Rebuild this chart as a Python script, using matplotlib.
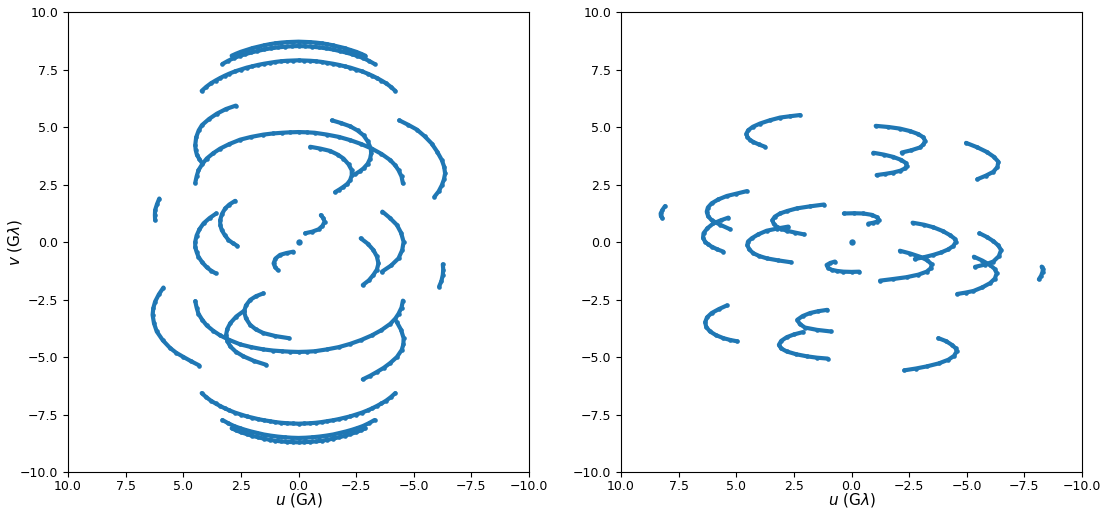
import matplotlib
matplotlib.use("Agg")
import matplotlib.pyplot as plt

# baselines, (u, v) in G-lambda
# left panel
top_outer = [(2.9,8.1),(2.7,8.19),(2.5,8.27),(2.25,8.35),(2,8.43),(1.75,8.49),(1.5,8.55),(1.25,8.6),(1,8.64),(0.75,8.67),(0.5,8.69),(0.25,8.7),(0,8.71),(-0.25,8.7),(-0.5,8.69),(-0.75,8.67),(-1,8.64),(-1.25,8.6),(-1.5,8.55),(-1.75,8.49),(-2,8.43),(-2.25,8.35),(-2.5,8.27),(-2.7,8.19),(-2.9,8.1)]
top_inner = [(3.3,7.74),(3.05,7.88),(2.8,8.0),(2.55,8.09),(2.3,8.17),(2.05,8.24),(1.8,8.3),(1.5,8.37),(1.2,8.42),(0.9,8.46),(0.6,8.49),(0.3,8.51),(0,8.52),(-0.3,8.51),(-0.6,8.49),(-0.9,8.46),(-1.2,8.42),(-1.5,8.37),(-1.8,8.3),(-2.05,8.24),(-2.3,8.17),(-2.55,8.09),(-2.8,8.0),(-3.05,7.88),(-3.3,7.74)]
top_wide = [(4.2,6.57),(4.0,6.75),(3.8,6.9),(3.6,7.02),(3.4,7.13),(3.2,7.23),(3,7.32),(2.75,7.42),(2.5,7.5),(2.25,7.58),(2,7.64),(1.75,7.7),(1.5,7.75),(1.25,7.79),(1,7.83),(0.75,7.86),(0.5,7.88),(0.25,7.89),(0,7.9),(-0.25,7.89),(-0.5,7.88),(-0.75,7.86),(-1,7.83),(-1.25,7.79),(-1.5,7.75),(-1.75,7.7),(-2,7.64),(-2.25,7.58),(-2.5,7.5),(-2.75,7.42),(-3,7.32),(-3.2,7.23),(-3.4,7.13),(-3.6,7.02),(-3.8,6.9),(-4.0,6.75),(-4.2,6.57)]
hook_ul = [(2.72,5.93),(3.15,5.78),(3.54,5.58),(3.88,5.35),(4.19,5.08),(4.33,4.85),(4.44,4.55),(4.48,4.21),(4.46,4.0),(4.41,3.8),(4.3,3.6),(4.19,3.44)]
mid_upper = [(4.48,2.57),(4.42,2.85),(4.34,3.12),(4.18,3.38),(3.98,3.63),(3.7,3.86),(3.4,4.06),(3.0,4.26),(2.53,4.45),(2.05,4.57),(1.52,4.67),(1.1,4.72),(0.7,4.75),(0.35,4.77),(0,4.78),(-0.35,4.77),(-0.7,4.75),(-1.23,4.67),(-1.75,4.57),(-2.24,4.43),(-2.72,4.26),(-3.18,4.06),(-3.6,3.83),(-3.98,3.56),(-4.2,3.33),(-4.34,3.12),(-4.47,2.85),(-4.53,2.55)]
hook_ur1 = [(-1.45,5.29),(-1.85,5.17),(-2.24,5.03),(-2.56,4.85),(-2.82,4.64),(-3.0,4.38),(-3.14,4.06),(-3.15,3.85),(-3.11,3.63),(-3.0,3.4),(-2.82,3.2),(-2.65,3.07),(-2.46,2.95)]
hook_ur2 = [(-0.51,4.14),(-0.95,4.06),(-1.37,3.96),(-1.7,3.8),(-1.95,3.63),(-2.17,3.38),(-2.31,3.12),(-2.31,2.9),(-2.24,2.69),(-2.12,2.53),(-1.95,2.4),(-1.77,2.28),(-1.59,2.17)]
right_outer = [(-4.37,5.29),(-4.75,5.1),(-5.13,4.89),(-5.47,4.6),(-5.78,4.28),(-6.02,3.92),(-6.22,3.56),(-6.32,3.27),(-6.36,2.98),(-6.31,2.72),(-6.22,2.47),(-6.08,2.2),(-5.9,1.97)]
left_tick = [(6.04,1.89),(6.14,1.64),(6.22,1.39),(6.23,1.17),(6.22,0.95)]
inner_l1 = [(2.75,1.79),(3.0,1.63),(3.18,1.46),(3.32,1.22),(3.4,0.95),(3.39,0.72),(3.33,0.52),(3.2,0.3),(3.04,0.09),(2.85,-0.05),(2.65,-0.17)]
inner_l2 = [(3.57,1.24),(3.86,1.04),(4.12,0.81),(4.3,0.55),(4.42,0.28),(4.48,0.01),(4.48,-0.23),(4.42,-0.43),(4.34,-0.64),(4.18,-0.88),(3.98,-1.1),(3.8,-1.24),(3.6,-1.36)]
centre_u = [(-0.97,1.17),(-1.08,1.03),(-1.13,0.88),(-1.04,0.7),(-0.87,0.55),(-0.6,0.45),(-0.29,0.38)]
inner_r1 = [(-3.64,1.32),(-3.96,1.05),(-4.27,0.74),(-4.45,0.4),(-4.56,0.01),(-4.5,-0.35),(-4.34,-0.71),(-4.02,-1.02),(-3.62,-1.29)]
inner_r2 = [(-2.7,0.16),(-3.0,-0.07),(-3.25,-0.35),(-3.4,-0.63),(-3.47,-0.93),(-3.4,-1.2),(-3.25,-1.43),(-3.05,-1.67),(-2.79,-1.87)]
centre_l = [(0.22,-0.42),(0.52,-0.48),(0.8,-0.56),(1.0,-0.72),(1.08,-0.93),(1.02,-1.08),(0.91,-1.21)]
right_tick = [(-6.26,-0.97),(-6.28,-1.2),(-6.26,-1.43),(-6.2,-1.7),(-6.1,-1.94)]
left_outer = [(5.86,-1.98),(6.06,-2.28),(6.22,-2.59),(6.3,-2.88),(6.33,-3.17),(6.27,-3.53),(6.15,-3.89),(5.89,-4.27),(5.57,-4.61),(5.3,-4.82),(4.99,-5.0),(4.65,-5.19),(4.3,-5.37)]
mid_lower = [(4.48,-2.57),(4.42,-2.85),(4.34,-3.12),(4.18,-3.38),(3.98,-3.63),(3.7,-3.86),(3.4,-4.06),(3.0,-4.26),(2.53,-4.45),(2.05,-4.57),(1.52,-4.67),(1.1,-4.72),(0.7,-4.75),(0.35,-4.77),(0,-4.78),(-0.35,-4.77),(-0.7,-4.75),(-1.23,-4.67),(-1.75,-4.57),(-2.24,-4.43),(-2.72,-4.26),(-3.18,-4.06),(-3.6,-3.83),(-3.98,-3.56),(-4.2,-3.33),(-4.34,-3.12),(-4.47,-2.85),(-4.53,-2.55)]
hook_ll1 = [(1.52,-2.23),(1.85,-2.36),(2.1,-2.52),(2.28,-2.76),(2.36,-3.02),(2.28,-3.32),(2.1,-3.6),(1.85,-3.8),(1.52,-3.96),(1.0,-4.09),(0.43,-4.18)]
hook_ll2 = [(2.36,-2.99),(2.7,-3.24),(2.96,-3.53),(3.09,-3.78),(3.14,-4.03),(3.09,-4.3),(2.96,-4.54),(2.72,-4.77),(2.39,-4.97),(1.93,-5.17),(1.4,-5.34)]
hook_lr = [(-4.27,-3.49),(-4.45,-3.82),(-4.56,-4.18),(-4.55,-4.45),(-4.48,-4.69),(-4.27,-5.0),(-3.98,-5.26),(-3.7,-5.47),(-3.4,-5.65),(-3.1,-5.82),(-2.79,-5.97)]
bot_wide = [(4.2,-6.57),(4.0,-6.75),(3.8,-6.9),(3.6,-7.02),(3.4,-7.13),(3.2,-7.23),(3,-7.32),(2.75,-7.42),(2.5,-7.5),(2.25,-7.58),(2,-7.64),(1.75,-7.7),(1.5,-7.75),(1.25,-7.79),(1,-7.83),(0.75,-7.86),(0.5,-7.88),(0.25,-7.89),(0,-7.9),(-0.25,-7.89),(-0.5,-7.88),(-0.75,-7.86),(-1,-7.83),(-1.25,-7.79),(-1.5,-7.75),(-1.75,-7.7),(-2,-7.64),(-2.25,-7.58),(-2.5,-7.5),(-2.75,-7.42),(-3,-7.32),(-3.2,-7.23),(-3.4,-7.13),(-3.6,-7.02),(-3.8,-6.9),(-4.0,-6.75),(-4.2,-6.57)]
bot_inner = [(3.3,-7.74),(3.05,-7.88),(2.8,-8.0),(2.55,-8.09),(2.3,-8.17),(2.05,-8.24),(1.8,-8.3),(1.5,-8.37),(1.2,-8.42),(0.9,-8.46),(0.6,-8.49),(0.3,-8.51),(0,-8.52),(-0.3,-8.51),(-0.6,-8.49),(-0.9,-8.46),(-1.2,-8.42),(-1.5,-8.37),(-1.8,-8.3),(-2.05,-8.24),(-2.3,-8.17),(-2.55,-8.09),(-2.8,-8.0),(-3.05,-7.88),(-3.3,-7.74)]
bot_outer = [(2.9,-8.1),(2.7,-8.19),(2.5,-8.27),(2.25,-8.35),(2,-8.43),(1.75,-8.49),(1.5,-8.55),(1.25,-8.6),(1,-8.64),(0.75,-8.67),(0.5,-8.69),(0.25,-8.7),(0,-8.71),(-0.25,-8.7),(-0.5,-8.69),(-0.75,-8.67),(-1,-8.64),(-1.25,-8.6),(-1.5,-8.55),(-1.75,-8.49),(-2,-8.43),(-2.25,-8.35),(-2.5,-8.27),(-2.7,-8.19),(-2.9,-8.1)]
origin = [(0,0)]

left_arcs = [top_outer, top_inner, top_wide, hook_ul, mid_upper, hook_ur1, hook_ur2, right_outer,
             left_tick, inner_l1, inner_l2, centre_u, inner_r1, inner_r2, centre_l, right_tick,
             left_outer, mid_lower, hook_ll1, hook_ll2, hook_lr, bot_wide, bot_inner, bot_outer]

# right panel
r_c1 = [(2.23,5.52),(2.65,5.47),(3.1,5.41),(3.55,5.29),(3.97,5.15),(4.28,5.01),(4.48,4.86),(4.56,4.71),(4.52,4.57),(4.42,4.45),(4.26,4.35),(4.02,4.24),(3.75,4.14)]
r_c2 = [(-1.05,5.05),(-1.6,5.0),(-2.1,4.93),(-2.55,4.82),(-2.9,4.69),(-3.12,4.55),(-3.19,4.4),(-3.12,4.24),(-2.97,4.11),(-2.6,3.99),(-2.18,3.89)]
r_c3 = [(-0.95,3.88),(-1.4,3.8),(-1.81,3.7),(-2.15,3.57),(-2.35,3.44),(-2.39,3.31),(-2.32,3.2),(-2.12,3.1),(-1.81,3.02),(-1.45,2.96),(-1.09,2.91)]
r_c4 = [(-4.97,4.31),(-5.45,4.12),(-5.86,3.92),(-6.17,3.71),(-6.37,3.49),(-6.33,3.26),(-6.15,3.05),(-5.82,2.88),(-5.46,2.73)]
r_c5 = [(8.09,1.56),(8.2,1.4),(8.28,1.24),(8.27,1.13),(8.2,1.03)]
r_c6 = [(4.55,2.21),(5.0,2.1),(5.41,2.0),(5.78,1.85),(6.07,1.68),(6.23,1.5),(6.28,1.32),(6.22,1.12),(6.07,0.95),(5.7,0.75),(5.28,0.56)]
r_c7 = [(5.34,1.06),(5.68,0.94),(5.99,0.81),(6.25,0.6),(6.42,0.38),(6.44,0.18),(6.35,0.01),(6.22,-0.1),(6.07,-0.2),(5.82,-0.32),(5.56,-0.42)]
r_c8 = [(1.19,1.63),(1.8,1.55),(2.38,1.46),(2.78,1.35),(3.1,1.24),(3.33,1.1),(3.43,0.95),(3.38,0.8),(3.25,0.67),(3.05,0.57),(2.81,0.49),(2.45,0.41),(2.06,0.33)]
r_c9 = [(2.74,0.67),(3.25,0.58),(3.68,0.49),(4.05,0.33),(4.33,0.16),(4.49,0.02),(4.52,-0.13),(4.44,-0.32),(4.26,-0.49),(4.0,-0.61),(3.68,-0.71),(3.18,-0.8),(2.64,-0.88)]
r_c10 = [(0.33,1.24),(-0.1,1.25),(-0.51,1.24),(-0.88,1.18),(-1.12,1.07),(-1.18,0.97),(-1.09,0.88),(-0.92,0.83),(-0.73,0.8)]
r_c11 = [(-2.65,0.84),(-3.15,0.75),(-3.55,0.64),(-3.95,0.48),(-4.27,0.3),(-4.47,0.15),(-4.53,0.01),(-4.42,-0.17),(-4.2,-0.32),(-3.9,-0.45),(-3.55,-0.56),(-3.15,-0.66),(-2.75,-0.74)]
r_c12 = [(-2.1,-0.38),(-2.55,-0.5),(-2.97,-0.64),(-3.28,-0.79),(-3.48,-0.97),(-3.44,-1.14),(-3.26,-1.29),(-2.9,-1.42),(-2.39,-1.53),(-1.8,-1.61),(-1.24,-1.68)]
r_c13 = [(0.72,-0.85),(0.92,-0.91),(1.08,-1.0),(1.02,-1.12),(0.86,-1.21),(0.62,-1.26),(0.35,-1.29),(0,-1.3),(-0.34,-1.29)]
r_c14 = [(-5.55,0.38),(-5.87,0.22),(-6.15,0.04),(-6.37,-0.15),(-6.49,-0.35),(-6.39,-0.62),(-6.15,-0.85),(-5.8,-0.98),(-5.36,-1.08)]
r_c15 = [(-5.31,-0.64),(-5.68,-0.81),(-6.01,-1.0),(-6.21,-1.17),(-6.3,-1.36),(-6.22,-1.59),(-6.01,-1.79),(-5.68,-1.97),(-5.29,-2.13),(-4.95,-2.2),(-4.59,-2.26)]
r_c16 = [(-8.25,-1.07),(-8.3,-1.18),(-8.29,-1.29),(-8.23,-1.46),(-8.13,-1.62)]
r_c17 = [(5.41,-2.76),(5.76,-2.92),(6.07,-3.09),(6.27,-3.28),(6.35,-3.49),(6.3,-3.7),(6.14,-3.89),(5.88,-4.05),(5.56,-4.18),(5.26,-4.26),(4.95,-4.32)]
r_c18 = [(1.05,-2.95),(1.45,-3.01),(1.8,-3.09),(2.12,-3.22),(2.35,-3.38),(2.25,-3.56),(2.02,-3.72),(1.5,-3.82),(0.9,-3.89)]
r_c19 = [(2.12,-3.92),(2.5,-4.02),(2.81,-4.14),(3.05,-4.3),(3.15,-4.47),(3.05,-4.63),(2.81,-4.76),(2.4,-4.88),(1.94,-4.97),(1.5,-5.03),(1.03,-5.07)]
r_c20 = [(-3.77,-4.18),(-4.1,-4.31),(-4.35,-4.47),(-4.52,-4.62),(-4.56,-4.76),(-4.45,-4.95),(-4.2,-5.12),(-3.78,-5.28),(-3.26,-5.41),(-2.8,-5.5),(-2.29,-5.58)]

right_arcs = [r_c1, r_c2, r_c3, r_c4, r_c5, r_c6, r_c7, r_c8, r_c9, r_c10, r_c11, r_c12, r_c13,
              r_c14, r_c15, r_c16, r_c17, r_c18, r_c19, r_c20]


def draw_arcs(ax, arcs):
    for arc in arcs:
        us = [p[0] for p in arc]
        vs = [p[1] for p in arc]
        ax.plot(us, vs, '-o', color='C0', lw=3.0, ms=3.3, mew=0, solid_capstyle='round', solid_joinstyle='round')
    # the dot at the origin is a touch bigger
    ax.plot([origin[0][0]], [origin[0][1]], 'o', color='C0', ms=4.6, mew=0)
    ax.set_xlim(10, -10)
    ax.set_ylim(-10, 10)
    ax.set_xticks([10, 7.5, 5, 2.5, 0, -2.5, -5, -7.5, -10])
    ax.set_yticks([10, 7.5, 5, 2.5, 0, -2.5, -5, -7.5, -10])
    ax.tick_params(labelsize=9)
    ax.tick_params(axis='x', pad=2.5)
    ax.set_xlabel(r'$u$ (G$\lambda$)', fontsize=11, labelpad=-1.5)


fig = plt.figure(figsize=(11, 5.08), dpi=100)
ax1 = fig.add_axes([68/1100, 1-472/508, 461/1100, 460/508])
ax2 = fig.add_axes([621/1100, 1-472/508, 461/1100, 460/508])
draw_arcs(ax1, left_arcs)
draw_arcs(ax2, right_arcs)
ax1.set_ylabel(r'$v$ (G$\lambda$)', fontsize=11, labelpad=-3)
fig.savefig('out.png', dpi=100)
